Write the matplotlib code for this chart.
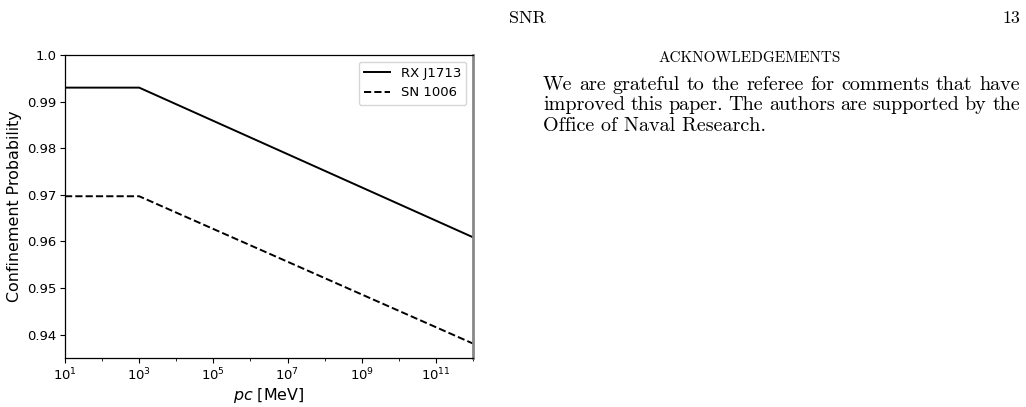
import numpy as np
import matplotlib.pyplot as plt
from matplotlib.ticker import FixedLocator, NullFormatter

# momentum (pc in MeV) and confinement probability
pc = [1e1, 1e3, 1e12]
rxj1713 = [0.993, 0.993, 0.9609]
sn1006 = [0.9697, 0.9697, 0.9381]

y_ticks = [0.94, 0.95, 0.96, 0.97, 0.98, 0.99, 1.0]
y_labels = ['0.94', '0.95', '0.96', '0.97', '0.98', '0.99', '1.0']
x_major = [1e1, 1e3, 1e5, 1e7, 1e9, 1e11]
x_minor = [1e2, 1e4, 1e6, 1e8, 1e10, 1e12]

body = ["We are grateful to the referee for comments that have",
        "improved this paper. The authors are supported by the",
        "Office of Naval Research."]

W, H = 1026, 407
fig = plt.figure(figsize=(W / 100, H / 100), dpi=100)
ax = fig.add_axes([65 / W, 1 - 358 / H, 408 / W, 303 / H])

fs = 9.5
ax.plot(pc, rxj1713, color='black', linestyle='-', lw=1.4, label='RX J1713')
ax.plot(pc, sn1006, color='black', linestyle='--', lw=1.4, label='SN 1006')

ax.set_xscale('log')
ax.set_xlim(1e1, 1e12)
ax.set_ylim(0.935, 1.0)
ax.xaxis.set_major_locator(FixedLocator(x_major))
ax.xaxis.set_minor_locator(FixedLocator(x_minor))
ax.xaxis.set_minor_formatter(NullFormatter())
ax.set_yticks(y_ticks)
ax.set_yticklabels(y_labels)
ax.tick_params(which='major', labelsize=fs, length=3.5, pad=2.5)
ax.tick_params(which='minor', length=2)
for s in ax.spines.values():
    s.set_linewidth(0.9)
ax.spines['right'].set_color('#888888')
ax.spines['right'].set_linewidth(2)

ax.set_xlabel('$pc$ [MeV]', fontsize=11.4, labelpad=2)
ax.set_ylabel('Confinement Probability', fontsize=11.4, labelpad=4)
ax.legend(loc='upper right', fontsize=fs, handlelength=2.0)

# page text around the figure
serif = 'cmr10'
fig.text(527 / W, 1 - 18 / H, 'SNR', family=serif, fontsize=13,
         ha='center', va='center')
fig.text(1020 / W, 1 - 18 / H, '13', family=serif, fontsize=13,
         ha='right', va='center')
fig.text(750 / W, 1 - 58 / H, 'ACKNOWLEDGEMENTS', family=serif,
         fontsize=11, ha='center', va='center')

# justified paragraph: words spread between left and right margins
x_left, x_right = 543, 1020
renderer = fig.canvas.get_renderer()
for i, line in enumerate(body):
    y = 1 - (85 + 20.5 * i) / H
    if i == len(body) - 1:
        fig.text(x_left / W, y, line, family=serif, fontsize=14.5,
                 ha='left', va='center')
        continue
    words = line.split()
    objs = [fig.text(0, y, w, family=serif, fontsize=14.5, ha='left',
                     va='center') for w in words]
    widths = [o.get_window_extent(renderer).width for o in objs]
    gap = (x_right - x_left - sum(widths)) / (len(words) - 1)
    x = x_left
    for o, w in zip(objs, widths):
        o.set_x(x / W)
        x += w + gap

fig.savefig('out.png', dpi=100)
